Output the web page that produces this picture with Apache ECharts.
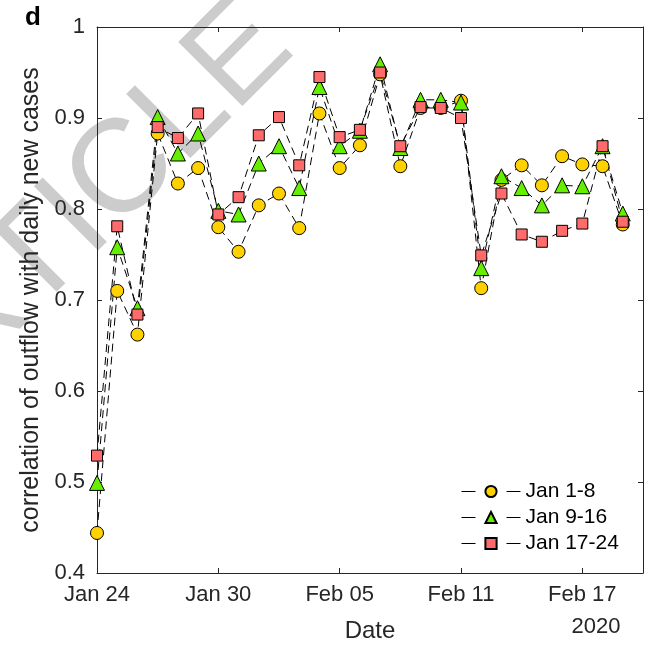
<!DOCTYPE html>
<html><head><meta charset="utf-8">
<script src="https://cdn.jsdelivr.net/npm/echarts@6/dist/echarts.min.js"></script>
<style>html,body{margin:0;padding:0;background:#fff}#c{width:651px;height:648px}</style>
</head><body><div id="c"></div><script>
const dates = ['Jan 24','Jan 25','Jan 26','Jan 27','Jan 28','Jan 29','Jan 30','Jan 31',
  'Feb 01','Feb 02','Feb 03','Feb 04','Feb 05','Feb 06','Feb 07','Feb 08','Feb 09','Feb 10',
  'Feb 11','Feb 12','Feb 13','Feb 14','Feb 15','Feb 16','Feb 17','Feb 18','Feb 19','Feb 20'];
const seriesNames = ['Jan 1-8','Jan 9-16','Jan 17-24'];
const jan1to8 = [0.444,0.710,0.662,0.883,0.828,0.845,0.780,0.753,0.804,0.817,0.779,0.905,0.845,0.870,
  0.948,0.847,0.911,0.911,0.919,0.713,0.832,0.848,0.826,0.858,0.849,0.847,0.783];
const jan9to16 = [0.499,0.758,0.691,0.901,0.861,0.883,0.798,0.794,0.850,0.869,0.823,0.934,0.869,0.886,
  0.959,0.867,0.920,0.920,0.917,0.735,0.836,0.823,0.804,0.826,0.825,0.869,0.795];
const jan17to24 = [0.529,0.781,0.684,0.890,0.878,0.905,0.794,0.813,0.881,0.901,0.848,0.945,0.879,0.887,
  0.950,0.869,0.912,0.911,0.900,0.749,0.817,0.772,0.764,0.776,0.784,0.869,0.786];
const yTickLabels = ['0.4','0.5','0.6','0.7','0.8','0.9','1'];

const FONT = '"Liberation Sans", Arial, sans-serif';
const AX = '#262626';
const chart = echarts.init(document.getElementById('c'));
const mkSeries = (name, data, symbol, size, color) => ({
  name, type: 'line', data, symbol, symbolSize: size, showAllSymbol: true,
  itemStyle: { color, borderColor: '#000', borderWidth: 1 },
  lineStyle: { color: '#000', width: 1, type: [8, 5] },
  emphasis: { disabled: true }
});
const xCommon = {
  type: 'category', data: dates, boundaryGap: false,
  axisLine: { show: true, lineStyle: { color: AX, width: 1 } },
  axisTick: { show: true, inside: true, length: 5, interval: 5, lineStyle: { color: AX } },
  splitLine: { show: false }
};
const yCommon = {
  type: 'value', min: 0.4, max: 1, interval: 0.1,
  axisLine: { show: true, lineStyle: { color: AX, width: 1 } },
  axisTick: { show: true, inside: true, length: 5, lineStyle: { color: AX } },
  splitLine: { show: false }
};
chart.setOption({
  animation: false,
  backgroundColor: '#fff',
  textStyle: { fontFamily: FONT },
  grid: { left: 97, right: 8, top: 27, bottom: 75, containLabel: false },
  graphic: [
    { type: 'text', z: -10, x: 75, y: 222, rotation: Math.PI / 4, silent: true,
      style: { text: 'ARTICLE', font: '132px ' + FONT, fill: '#cccccc',
        align: 'center', verticalAlign: 'middle', textAlign: 'center', textVerticalAlign: 'middle' } },
    { type: 'text', x: 33, y: 18,
      style: { text: 'd', font: 'bold 26px ' + FONT, fill: '#000',
        align: 'center', verticalAlign: 'middle', textAlign: 'center', textVerticalAlign: 'middle' } },
    { type: 'text', x: 596, y: 627,
      style: { text: '2020', font: '22px ' + FONT, fill: AX,
        align: 'center', verticalAlign: 'middle', textAlign: 'center', textVerticalAlign: 'middle' } }
  ],
  xAxis: [
    Object.assign({}, xCommon, {
      position: 'bottom', name: 'Date', nameLocation: 'middle', nameGap: 46,
      nameTextStyle: { fontSize: 24, color: AX, fontFamily: FONT },
      axisLabel: { show: true, interval: 5, fontSize: 22, color: AX, margin: 11, fontFamily: FONT }
    }),
    Object.assign({}, xCommon, { position: 'top', axisLabel: { show: false } })
  ],
  yAxis: [
    Object.assign({}, yCommon, {
      position: 'left', name: 'correlation of outflow with daily new cases',
      nameLocation: 'middle', nameGap: 49, nameRotate: 90,
      nameTextStyle: { fontSize: 25, color: AX, fontFamily: FONT },
      axisLabel: { fontSize: 22, color: AX, margin: 12, fontFamily: FONT,
        formatter: (v) => yTickLabels[Math.round((v - 0.4) * 10)] }
    }),
    Object.assign({}, yCommon, { position: 'right', axisLabel: { show: false } })
  ],
  legend: {
    orient: 'vertical', left: 461, top: 481, padding: 0,
    itemWidth: 59, itemHeight: 14, itemGap: 5,
    lineStyle: { type: [14, 31], color: '#000', width: 1 },
    textStyle: { fontSize: 21, color: '#000', fontFamily: FONT, lineHeight: 21 },
    data: seriesNames
  },
  series: [
    mkSeries(seriesNames[0], jan1to8, 'circle', 13, '#FFD100'),
    mkSeries(seriesNames[1], jan9to16, 'triangle', 15, '#66EE00'),
    mkSeries(seriesNames[2], jan17to24, 'rect', 11, '#FF6B6B')
  ]
});
</script></body></html>
